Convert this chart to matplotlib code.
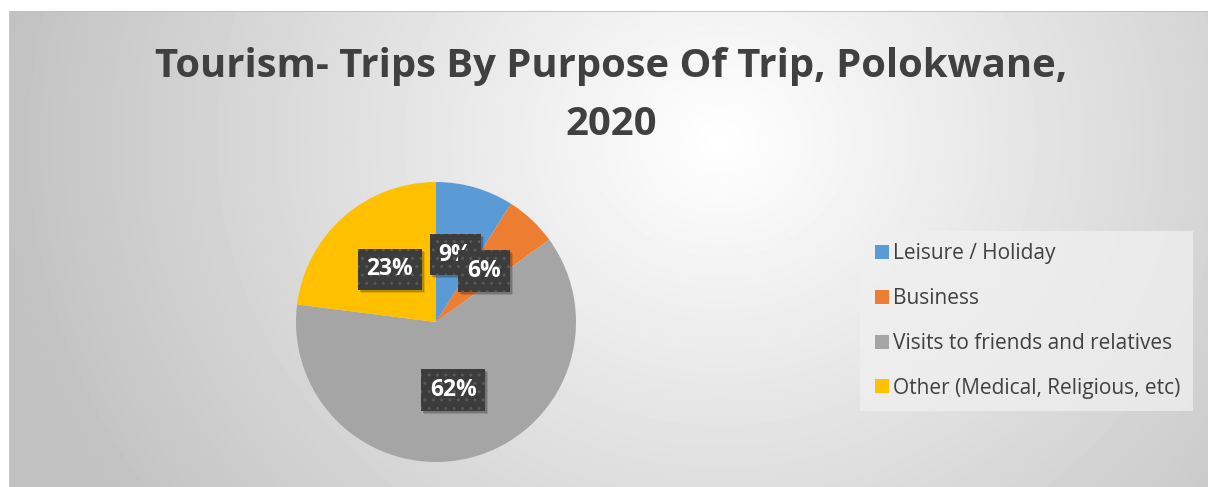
import matplotlib
matplotlib.use("Agg")
import matplotlib.pyplot as plt
from matplotlib.lines import Line2D
from matplotlib.patches import Rectangle
import numpy as np

labels = ["Leisure / Holiday", "Business", "Visits to friends and relatives",
          "Other (Medical, Religious, etc)"]
shares = [9, 6, 62, 23]
colors = ["#5B9BD5", "#ED7D31", "#A5A5A5", "#FFC000"]
title_lines = ["Tourism- Trips By Purpose Of Trip, Polokwane,", "2020"]

plt.rcParams['font.family'] = ['Open Sans', 'DejaVu Sans']

W, H = 1208, 487
fig = plt.figure(figsize=(W / 100, H / 100), dpi=100)

# chart area with radial gradient background
x0, y0 = 9, 11
bg = fig.add_axes([x0 / W, 0, 1 - x0 / W, 1 - y0 / H])
bg.set_axis_off()
yy, xx = np.mgrid[y0:H, x0:W]
d = np.sqrt(((xx - 720) / 1.0) ** 2 + ((yy - 140) / 0.9) ** 2)
t = np.clip(d / 720, 0, 1)
shade = 1.0 - 0.24 * t
bg.imshow(shade, cmap='gray', vmin=0, vmax=1, aspect='auto',
          extent=[0, 1, 0, 1], interpolation='bilinear')
bg.set_xlim(0, 1)
bg.set_ylim(0, 1)
bg.plot([0, 1], [1, 1], color='#bdbdbd', lw=1.2)
bg.plot([0, 0], [0, 1], color='#c8c8c8', lw=1.0)

# title, one text per line
for line, base in zip(title_lines, [77, 135]):
    fig.text(611 / W, 1 - base / H, line, ha='center', va='baseline', fontsize=28.8,
             fontweight='bold', color='#404040')

# pie
cx, cy, r = 436, 322, 140
ax = fig.add_axes([(cx - r) / W, (H - cy - r) / H, 2 * r / W, 2 * r / H])
wedges, _, autotexts = ax.pie(shares, colors=colors, startangle=90, counterclock=False,
                              autopct='%1.0f%%', pctdistance=0.5,
                              wedgeprops=dict(linewidth=0))
ax.set_xlim(-1, 1)
ax.set_ylim(-1, 1)
ax.set_aspect('auto')
for i, at in enumerate(autotexts):
    at.set_color('white')
    at.set_fontsize(16.5)
    at.set_fontweight('bold')
    at.set_zorder(11 + 2 * i)
    at.set_bbox(dict(boxstyle='square,pad=0.38', fc='#3c3c3c', ec='#585858', lw=0,
                     hatch='..'))

# soft drop shadow under each label box, from the drawn box extents
fig.canvas.draw()
for i, at in enumerate(autotexts):
    ext = at.get_bbox_patch().get_window_extent()
    for k, a in [(3, 0.12), (2, 0.18)]:
        fig.add_artist(Rectangle((ext.x0 + k, ext.y0 - k), ext.width, ext.height,
                                 transform=None, fc='black', ec='none', alpha=a,
                                 zorder=10 + 2 * i))
for i, at in enumerate(autotexts):
    at.remove()
    fig.add_artist(at)

handles = [Line2D([], [], marker='s', linestyle='none', markersize=9.5,
                  markerfacecolor=c, markeredgewidth=0) for c in colors]
leg = fig.legend(handles, labels, loc='center left',
                 bbox_to_anchor=(860 / W, (H - 321) / H), frameon=True,
                 fontsize=15, labelspacing=1.14, handletextpad=0.1,
                 handlelength=0.9, borderpad=0.6, borderaxespad=0)
leg.get_frame().set_facecolor('#f0f0f0')
leg.get_frame().set_alpha(0.75)
leg.get_frame().set_edgecolor('none')
leg.get_frame().set_boxstyle('square,pad=0')
for txt in leg.get_texts():
    txt.set_color('#404040')

fig.savefig("out.png", dpi=100)
